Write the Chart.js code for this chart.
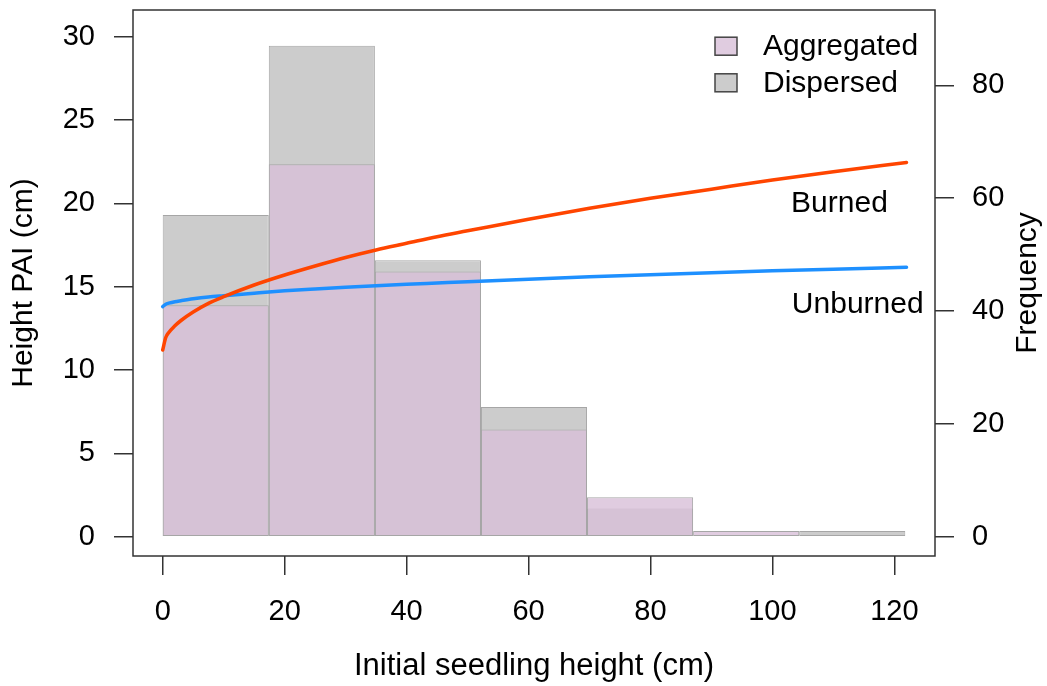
<!DOCTYPE html>
<html><head><meta charset="utf-8">
<script src="https://cdn.jsdelivr.net/npm/chart.js@4.4.1/dist/chart.umd.min.js"></script>
<style>html,body{margin:0;padding:0;background:#fff;} #wrap{width:1047px;height:686px;}</style>
</head><body><div id="wrap"><canvas id="c" width="1047" height="686"></canvas></div>
<script>
// ---- data ----
const binCenters = [8.7, 26.1, 43.5, 60.9, 78.3, 95.7, 113.1];
const aggregatedFreq = [41, 66, 47, 19, 7, 1, 0];
const dispersedFreq = [57, 87, 49, 23, 5, 0, 1];
const seriesLabels = ['Aggregated', 'Dispersed'];

const curveX = [0, 0.5, 1, 2, 3, 5, 7.5, 10, 15, 20, 25, 30, 35, 40, 45, 50, 60, 70, 80, 90, 100, 110, 122];
const burnedPAI = [11.2, 11.95, 12.25, 12.65, 12.97, 13.48, 14.0, 14.4, 15.1, 15.7, 16.24, 16.75, 17.2, 17.6, 18.0, 18.35, 19.05, 19.7, 20.3, 20.85, 21.4, 21.9, 22.45];
const unburnedPAI = [13.8, 13.95, 14.01, 14.1, 14.16, 14.27, 14.38, 14.46, 14.61, 14.75, 14.86, 14.96, 15.05, 15.14, 15.22, 15.3, 15.45, 15.59, 15.72, 15.84, 15.95, 16.05, 16.16];
const curveLabels = ['Burned', 'Unburned'];
const curveLabelPos = [[111, 20.0], [114, 13.9]];

const xTicks = [0, 20, 40, 60, 80, 100, 120];
const yTicks = [0, 5, 10, 15, 20, 25, 30];
const freqTicks = [0, 20, 40, 60, 80];

const xTitle = 'Initial seedling height (cm)';
const yTitle = 'Height PAI (cm)';
const y2Title = 'Frequency';

// ---- styling ----
const FONT = "'Liberation Sans', Arial, sans-serif";
const AGG_COLOR = 'rgba(216,191,216,0.8)';
const DISP_COLOR = '#cccccc';
const BAR_BORDER = '#a6a6a6';
const AXIS_COLOR = '#333333';

Chart.defaults.font.family = FONT;
Chart.defaults.color = '#000';

const toXY = (xs, ys) => xs.map((x, i) => ({x: x, y: ys[i]}));

const frame = {
  id: 'frame',
  afterDraw(chart) {
    const {ctx, chartArea: a, scales} = chart;
    ctx.save();
    ctx.strokeStyle = AXIS_COLOR;
    ctx.lineWidth = 1.5;
    ctx.strokeRect(a.left, a.top, a.right - a.left, a.bottom - a.top);

    ctx.fillStyle = '#000';
    // axis titles
    ctx.font = '31px ' + FONT;
    ctx.textAlign = 'center';
    ctx.textBaseline = 'alphabetic';
    ctx.fillText(xTitle, (a.left + a.right) / 2, 675);

    ctx.font = '30px ' + FONT;
    ctx.textBaseline = 'middle';
    ctx.save();
    ctx.translate(24, (a.top + a.bottom) / 2);
    ctx.rotate(-Math.PI / 2);
    ctx.fillText(yTitle, 0, 0);
    ctx.restore();
    ctx.save();
    ctx.translate(1028, (a.top + a.bottom) / 2);
    ctx.rotate(-Math.PI / 2);
    ctx.fillText(y2Title, 0, 0);
    ctx.restore();

    // curve labels
    curveLabels.forEach((t, i) => {
      const px = scales.x.getPixelForValue(curveLabelPos[i][0]);
      const py = scales.y.getPixelForValue(curveLabelPos[i][1]);
      ctx.fillText(t, px, py);
    });

    // legend
    const fills = [AGG_COLOR, DISP_COLOR];
    const rows = [46.2, 82.8];
    ctx.textAlign = 'left';
    seriesLabels.forEach((t, i) => {
      const cy = rows[i];
      ctx.fillStyle = '#fff';
      ctx.fillRect(715, cy - 9, 22, 18);
      ctx.fillStyle = fills[i];
      ctx.fillRect(715, cy - 9, 22, 18);
      ctx.strokeStyle = '#444';
      ctx.lineWidth = 1.5;
      ctx.strokeRect(715, cy - 9, 22, 18);
      ctx.fillStyle = '#000';
      ctx.fillText(t, 763, cy + 1);
    });
    ctx.restore();
  }
};

const tickGrid = {display: true, offset: false, drawOnChartArea: false, drawTicks: true, tickLength: 19, color: AXIS_COLOR, lineWidth: 1.5};
const noPad = s => { s.paddingTop = 0; s.paddingBottom = 0; s.paddingLeft = 0; s.paddingRight = 0; };

new Chart(document.getElementById('c'), {
  type: 'bar',
  data: {
    datasets: [
      {type: 'line', label: curveLabels[0], data: toXY(curveX, burnedPAI), yAxisID: 'y', borderColor: '#ff4500', borderWidth: 3.5, borderCapStyle: 'round', pointRadius: 0, cubicInterpolationMode: 'monotone', order: 0},
      {type: 'line', label: curveLabels[1], data: toXY(curveX, unburnedPAI), yAxisID: 'y', borderColor: '#1e90ff', borderWidth: 3.5, borderCapStyle: 'round', pointRadius: 0, cubicInterpolationMode: 'monotone', order: 0},
      {label: seriesLabels[0], data: toXY(binCenters, aggregatedFreq), yAxisID: 'y2', backgroundColor: AGG_COLOR, borderColor: BAR_BORDER, borderWidth: 1, borderSkipped: false, inflateAmount: 0, order: 1},
      {label: seriesLabels[1], data: toXY(binCenters, dispersedFreq), yAxisID: 'y2', backgroundColor: DISP_COLOR, borderColor: BAR_BORDER, borderWidth: 1, borderSkipped: false, inflateAmount: 0, order: 2}
    ]
  },
  options: {
    responsive: false,
    devicePixelRatio: 1,
    animation: false,
    layout: {padding: {top: 10, left: 0, right: 0, bottom: 0}},
    datasets: {bar: {grouped: false, barPercentage: 1, categoryPercentage: 1}},
    plugins: {legend: {display: false}, tooltip: {enabled: false}},
    scales: {
      x: {
        type: 'linear', position: 'bottom', min: -4.872, max: 126.672, offset: false,
        afterBuildTicks: s => { s.ticks = xTicks.map(v => ({value: v})); },
        afterFit: s => { s.height = 130; noPad(s); },
        grid: tickGrid, border: {display: false},
        ticks: {font: {size: 29}, padding: 20, color: '#000', maxRotation: 0, autoSkip: false, callback: v => String(v)}
      },
      y: {
        type: 'linear', position: 'left', min: -1.16, max: 31.6,
        afterBuildTicks: s => { s.ticks = yTicks.map(v => ({value: v})); },
        afterFit: s => { s.width = 133; noPad(s); },
        grid: tickGrid, border: {display: false},
        ticks: {font: {size: 29}, padding: 19, color: '#000', autoSkip: false, callback: v => String(v)}
      },
      y2: {
        type: 'linear', position: 'right', min: -3.42, max: 93.35,
        afterBuildTicks: s => { s.ticks = freqTicks.map(v => ({value: v})); },
        afterFit: s => { s.width = 112; noPad(s); },
        grid: tickGrid, border: {display: false},
        ticks: {font: {size: 29}, padding: 18, color: '#000', autoSkip: false, callback: v => String(v)}
      }
    }
  },
  plugins: [frame]
});
</script>
</body></html>
